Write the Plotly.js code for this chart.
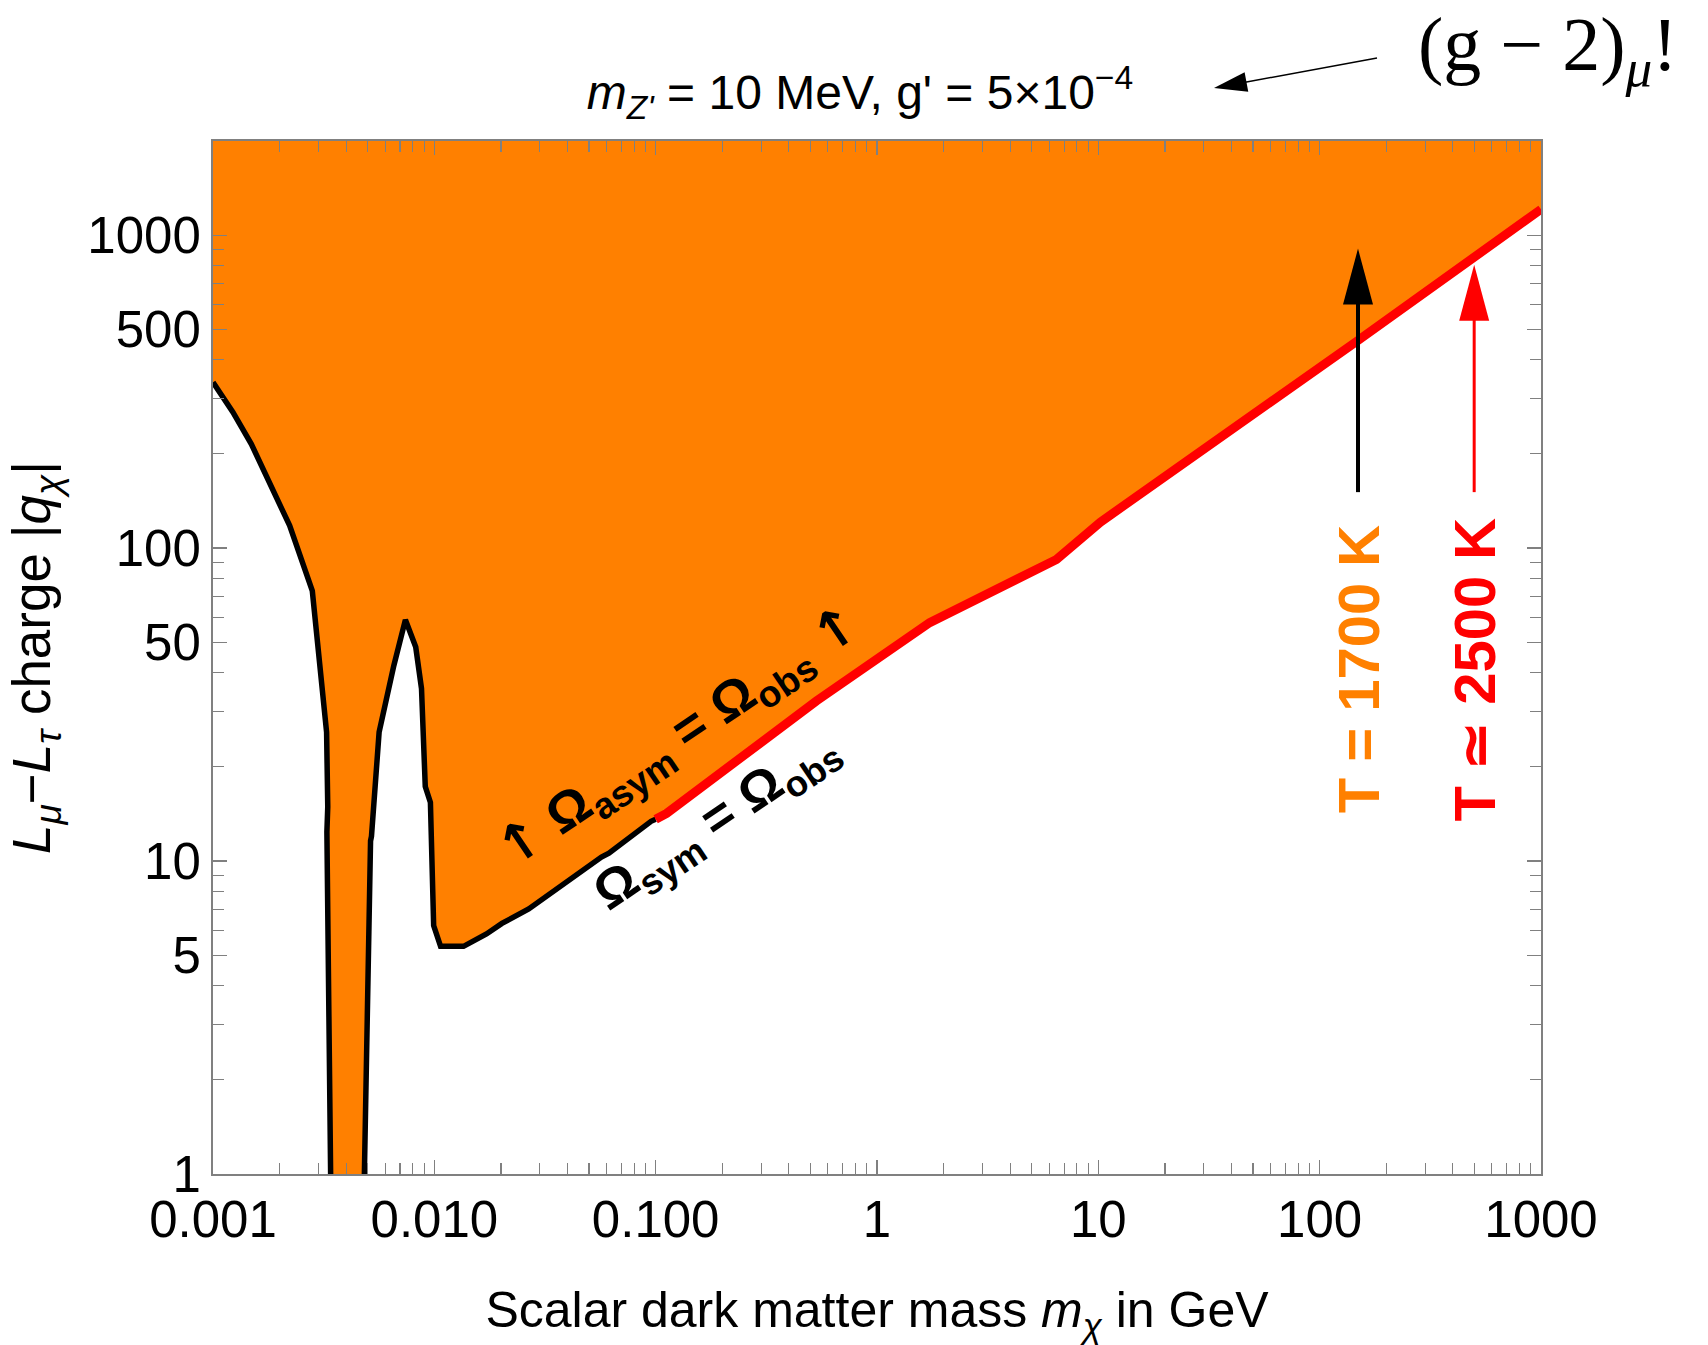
<!DOCTYPE html>
<html><head><meta charset="utf-8">
<script src="https://cdn.plot.ly/plotly-3.0.1.min.js"></script>
<style>html,body{margin:0;padding:0;background:#fff}</style>
</head><body><div id="chart" style="width:1708px;height:1345px"></div>
<script>
// ---- data ----
// black boundary, left wall and flank of the dip
const blackLeftX = [0.001, 0.00123, 0.00149, 0.00222, 0.00281, 0.00326, 0.00330, 0.00327, 0.00340];
const blackLeftY = [339, 272, 215, 118, 73, 25.8, 14.9, 12.4, 1];
// black boundary, right of the dip up to 0.1 GeV
const blackRightX = [0.00483, 0.00497, 0.00503, 0.00515, 0.00520, 0.00563, 0.00656, 0.00740, 0.00824, 0.00875, 0.00910, 0.00960, 0.00993, 0.01067, 0.01355, 0.0172, 0.0202, 0.0267, 0.0569, 0.0615, 0.0953, 0.100];
const blackRightY = [1, 3.43, 5.68, 11.6, 12.0, 25.8, 42.1, 59, 48.3, 35.6, 17.3, 15.4, 6.22, 5.34, 5.34, 5.85, 6.32, 7.03, 10.3, 10.6, 13.4, 13.6];
// red boundary (Omega_asym = Omega_obs)
const redX = [0.100, 0.112, 0.533, 1.73, 6.47, 10.2, 147, 1000];
const redY = [13.6, 14.2, 32.5, 57.8, 92, 121, 458, 1210];

const xTickVals = [0.001, 0.01, 0.1, 1, 10, 100, 1000];
const xTickText = ['0.001', '0.010', '0.100', '1', '10', '100', '1000'];
const yTickVals = [1, 5, 10, 50, 100, 500, 1000];
const yTickText = ['1', '5', '10', '50', '100', '500', '1000'];

// ---- styling ----
const ORANGE = 'rgb(255,128,0)';
const RED = 'rgb(255,0,0)';
const GRAY = 'rgb(128,128,128)';
const SANS = 'Liberation Sans, Arial, Helvetica, sans-serif';
const SERIF = 'Liberation Serif, DejaVu Serif, serif';
const X_RANGE = [-3, 3];
const Y_RANGE = [0, Math.log10(2000)];
const M = {l: 213, r: 167, t: 141, b: 171};
const H = 1345, W = 1708;
const pxPerDecY = (H - M.t - M.b) / (Y_RANGE[1] - Y_RANGE[0]);

// minor ticks
const xMinor = [], yMinor = [];
for (let k = -3; k < 3; k++) for (let d = 2; d <= 9; d++) xMinor.push(d * Math.pow(10, k));
for (let k = 0; k < 3; k++) for (let d = 2; d <= 9; d++) if (d !== 5) yMinor.push(d * Math.pow(10, k));

const fillX = blackLeftX.concat(blackRightX, redX);
const fillY = blackLeftY.concat(blackRightY, redY);

const traces = [
  {x: [0.001, 1000], y: [1e4, 1e4], mode: 'lines', line: {width: 0, color: ORANGE}, showlegend: false, hoverinfo: 'skip'},
  {x: fillX, y: fillY, mode: 'lines', fill: 'tonexty', fillcolor: ORANGE, line: {width: 0, color: ORANGE}, showlegend: false, hoverinfo: 'skip'},
  {x: blackLeftX, y: blackLeftY, mode: 'lines', line: {color: 'black', width: 5.5}, showlegend: false},
  {x: blackRightX, y: blackRightY, mode: 'lines', line: {color: 'black', width: 5.5}, showlegend: false},
  {x: redX, y: redY, mode: 'lines', line: {color: RED, width: 9}, showlegend: false}
];

function vArrow(xv, yTail, yTip, color, w) {
  const yStop = yTip * Math.pow(10, -30 / pxPerDecY);
  return [
    {type: 'line', xref: 'x', yref: 'y', x0: xv, x1: xv, y0: yTail, y1: yStop, line: {color: color, width: w}},
    {type: 'path', xref: 'x', yref: 'y', xsizemode: 'pixel', ysizemode: 'pixel', xanchor: xv, yanchor: yTip,
     path: 'M0,0 L-15,-56 L15,-56 Z', fillcolor: color, line: {width: 0}}
  ];
}

// top arrow in paper coordinates: tail -> tip
const tail = {x: (1377 - M.l) / (W - M.l - M.r), y: (H - M.b - 58) / (H - M.t - M.b)};
const tip = {x: (1214 - M.l) / (W - M.l - M.r), y: (H - M.b - 88) / (H - M.t - M.b)};
const dpx = 1377 - 1214, dpy = 88 - 58;
const len = Math.hypot(dpx, dpy);
const ux = dpx / len, uy = dpy / len;
const HL = 33, HW = 10;
const bx = HL * ux, by = HL * uy;
const nx = -uy, ny = ux;
const topHead = 'M0,0 L' + (bx + HW * nx).toFixed(2) + ',' + (by + HW * ny).toFixed(2) +
  ' L' + (bx - HW * nx).toFixed(2) + ',' + (by - HW * ny).toFixed(2) + ' Z';

const shapes = []
  .concat(vArrow(149, 151, 906, 'black', 4))
  .concat(vArrow(499, 151, 805, RED, 3))
  .concat([
    {type: 'line', xref: 'paper', yref: 'paper', x0: tail.x, y0: tail.y,
     x1: tip.x + (tail.x - tip.x) * 0.15, y1: tip.y + (tail.y - tip.y) * 0.15, line: {color: 'black', width: 1.5}},
    {type: 'path', xref: 'paper', yref: 'paper', xsizemode: 'pixel', ysizemode: 'pixel', xanchor: tip.x, yanchor: tip.y,
     path: topHead, fillcolor: 'black', line: {width: 0}}
  ]);

const axisCommon = {
  type: 'log', showgrid: false, zeroline: false, showline: true, linecolor: GRAY, linewidth: 2,
  mirror: 'allticks', ticks: 'inside', ticklen: 14, tickwidth: 1.3, tickcolor: GRAY,
  tickfont: {family: SANS, size: 51, color: 'black'}, tickmode: 'array'
};

const ARW = '<span style="font-family:DejaVu Sans;font-weight:bold">↑</span>';

const layout = {
  width: W, height: H, autosize: false,
  margin: {l: M.l, r: M.r, t: M.t, b: M.b, pad: 0},
  paper_bgcolor: 'white', plot_bgcolor: 'white',
  showlegend: false,
  title: {text: '<i>m</i><sub><i>Z\'</i></sub> = 10 MeV, g\' = 5×10<sup>−4</sup>',
          font: {family: SANS, size: 48, color: 'black'},
          x: 860 / W, xanchor: 'center', y: 1 - 92 / H, yanchor: 'middle', xref: 'container', yref: 'container'},
  xaxis: Object.assign({}, axisCommon, {
    range: X_RANGE, tickvals: xTickVals, ticktext: xTickText, ticklabelstandoff: 0,
    minor: {tickmode: 'array', tickvals: xMinor, ticklen: 11, tickwidth: 1.1, tickcolor: GRAY, ticks: 'inside', showgrid: false},
    title: {text: 'Scalar dark matter mass <i>m</i><sub><i>χ</i></sub> in GeV', font: {family: SANS, size: 50, color: 'black'}, standoff: 62}
  }),
  yaxis: Object.assign({}, axisCommon, {
    range: Y_RANGE, tickvals: yTickVals, ticktext: yTickText, ticklabelstandoff: 0,
    minor: {tickmode: 'array', tickvals: yMinor, ticklen: 11, tickwidth: 1.1, tickcolor: GRAY, ticks: 'inside', showgrid: false},
    title: {text: '<i>L</i><sub><i>μ</i></sub>−<i>L</i><sub><i>τ</i></sub> charge |<i>q</i><sub><i>χ</i></sub>|', font: {family: SANS, size: 53, color: 'black'}, standoff: 20}
  }),
  shapes: shapes,
  annotations: [
    {xref: 'x', yref: 'y', x: Math.log10(149), y: Math.log10(41), text: '<b>T = 1700 K</b>', textangle: -90,
     showarrow: false, font: {family: SANS, size: 58, color: ORANGE}},
    {xref: 'x', yref: 'y', x: Math.log10(499), y: Math.log10(41), text: '<b>T ≃ 2500 K</b>', textangle: -90,
     showarrow: false, font: {family: SANS, size: 58, color: RED}},
    {xref: 'x', yref: 'y', x: Math.log10(0.128), y: Math.log10(24.8), text: '<b>' + ARW + ' Ω<sub>asym</sub> = Ω<sub>obs</sub> ' + ARW + '</b>', textangle: -34,
     showarrow: false, font: {family: SANS, size: 53, color: 'black'}},
    {xref: 'x', yref: 'y', x: Math.log10(0.189), y: Math.log10(13.3), text: '<b>Ω<sub>sym</sub> = Ω<sub>obs</sub></b>', textangle: -34,
     showarrow: false, font: {family: SANS, size: 52, color: 'black'}},
    {xref: 'paper', yref: 'paper', x: (1548 - M.l) / (W - M.l - M.r), y: (H - M.b - 50) / (H - M.t - M.b),
     text: '(g − 2)<sub><i>μ</i></sub>!', showarrow: false, xanchor: 'center', yanchor: 'middle',
     font: {family: SERIF, size: 76, color: 'black'}}
  ]
};

Plotly.newPlot('chart', traces, layout, {staticPlot: true, displayModeBar: false});
</script>
</body></html>
